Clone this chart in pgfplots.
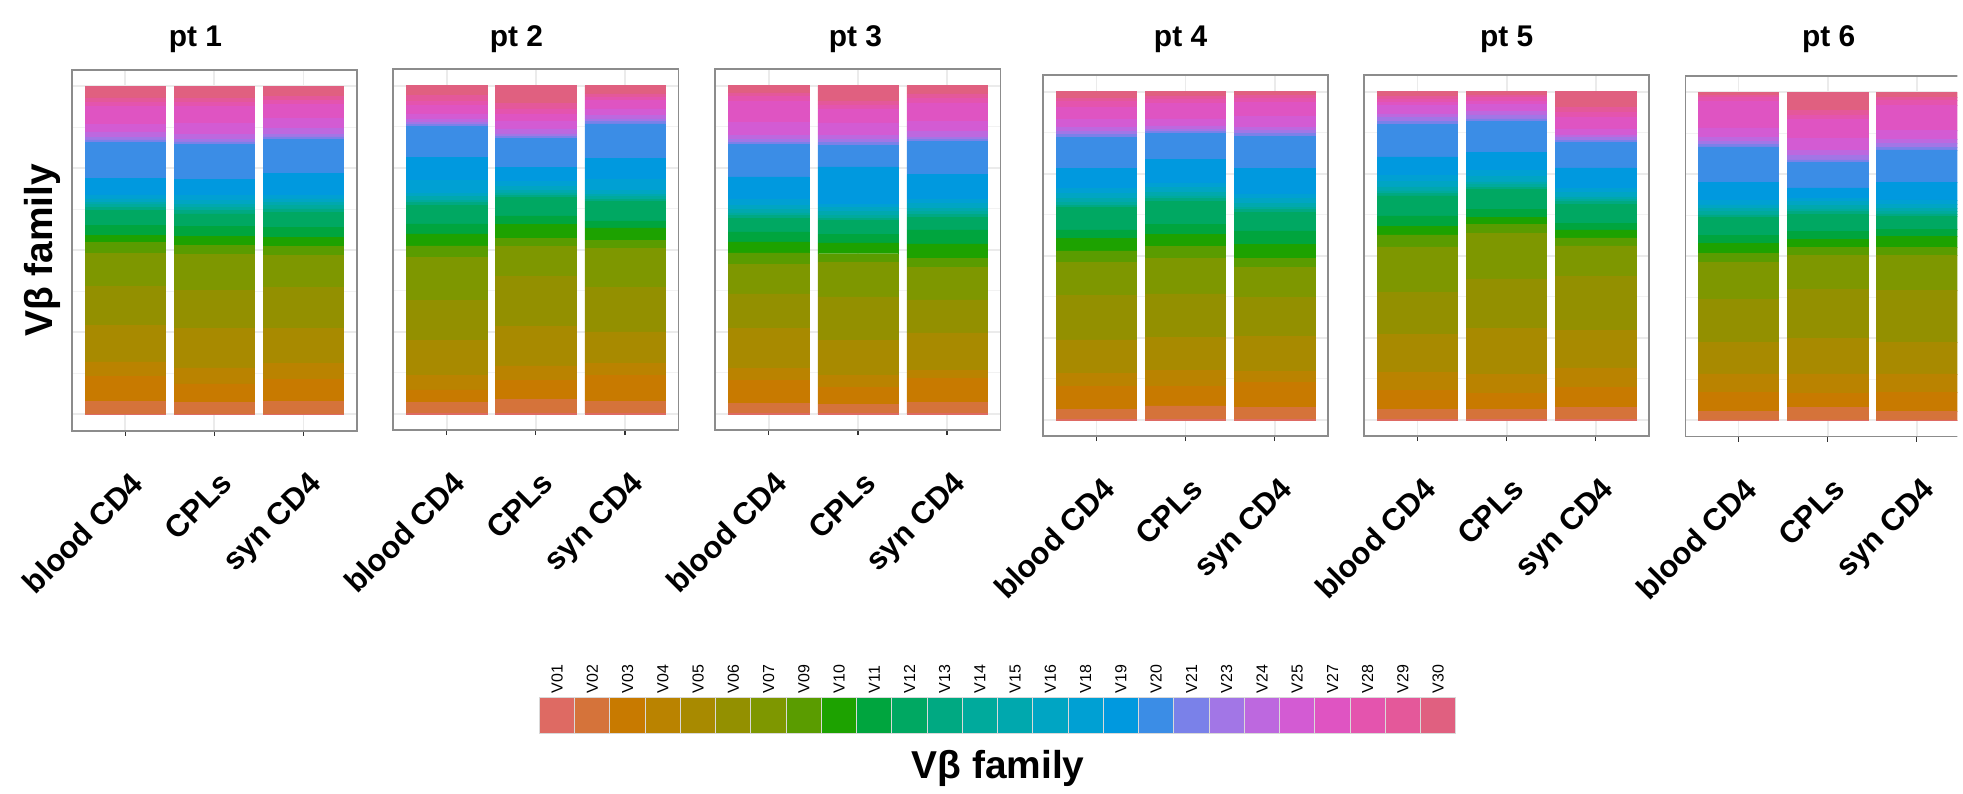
\documentclass[border=0pt]{standalone}
\usepackage{pgfplots}
\pgfplotsset{compat=1.18}
\usepackage{pgfplotstable}
\usepackage{fontspec}
\setmainfont{Liberation Sans}

\definecolor{c1}{HTML}{DE6A63}
\definecolor{c2}{HTML}{D5733A}
\definecolor{c3}{HTML}{C87A00}
\definecolor{c4}{HTML}{BA8300}
\definecolor{c5}{HTML}{A88A00}
\definecolor{c6}{HTML}{939000}
\definecolor{c7}{HTML}{7E9700}
\definecolor{c8}{HTML}{5A9C00}
\definecolor{c9}{HTML}{1DA200}
\definecolor{c10}{HTML}{00A53E}
\definecolor{c11}{HTML}{00A862}
\definecolor{c12}{HTML}{00A982}
\definecolor{c13}{HTML}{00AA9C}
\definecolor{c14}{HTML}{00A8AE}
\definecolor{c15}{HTML}{00A5C3}
\definecolor{c16}{HTML}{00A0D3}
\definecolor{c17}{HTML}{0099DF}
\definecolor{c18}{HTML}{3B8DE6}
\definecolor{c19}{HTML}{7A81E9}
\definecolor{c20}{HTML}{A276E6}
\definecolor{c21}{HTML}{BD68DF}
\definecolor{c22}{HTML}{D35BD3}
\definecolor{c23}{HTML}{DF54C2}
\definecolor{c24}{HTML}{E454AE}
\definecolor{c25}{HTML}{E4589A}
\definecolor{c26}{HTML}{E06080}

\pgfplotstableread{
x V01 V02 V03 V04 V05 V06 V07 V09 V10 V11 V12 V13 V14 V15 V16 V18 V19 V20 V21 V23 V24 V25 V27 V28 V29 V30
1 1 37 77 43 110 117 100 33 21 31 45 10 8 7 10 12 51 107 8 7 17 23 55 12 13 35
2 1 34 57 48 120 113 109 27 28 30 38 10 10 9 12 14 50 105 7 8 15 33 52 12 11 37
3 1 37 67 48 107 122 97 27 27 30 47 10 10 10 10 10 68 102 7 8 17 30 43 13 12 30
}\ptA
\pgfplotstableread{
x V01 V02 V03 V04 V05 V06 V07 V09 V10 V11 V12 V13 V14 V15 V16 V18 V19 V20 V21 V23 V24 V25 V27 V28 V29 V30
1 1 34 37 43 107 120 131 34 36 30 57 8 7 10 10 40 68 94 7 6 10 15 25 12 18 30
2 1 43 58 43 120 149 91 25 42 25 55 7 8 7 13 15 42 87 6 8 15 24 21 15 17 53
3 1 36 78 37 95 135 118 24 37 21 58 8 7 7 13 32 63 105 7 8 10 20 25 10 10 25
}\ptB
\pgfplotstableread{
x V01 V02 V03 V04 V05 V06 V07 V09 V10 V11 V12 V13 V14 V15 V16 V18 V19 V20 V21 V23 V24 V25 V27 V28 V29 V30
1 1 31 70 35 121 104 88 36 33 30 41 8 8 10 14 16 69 98 7 8 12 40 63 15 10 22
2 1 28 51 35 107 131 105 25 33 25 42 7 8 12 12 11 112 66 7 10 12 38 42 12 12 46
3 1 34 72 25 112 100 99 27 43 42 38 9 8 10 14 13 75 100 5 8 18 29 56 14 13 25
}\ptC
\pgfplotstableread{
x V01 V02 V03 V04 V05 V06 V07 V09 V10 V11 V12 V13 V14 V15 V16 V18 V19 V20 V21 V23 V24 V25 V27 V28 V29 V30
1 1 31 70 38 101 134 99 36 37 26 67 8 8 12 15 15 61 94 8 9 13 23 37 17 10 20
2 1 41 60 47 99 132 108 36 36 30 68 9 9 11 15 13 70 79 6 7 10 21 47 13 9 13
3 1 36 77 32 106 117 92 27 42 40 55 9 8 10 15 15 76 97 10 8 9 33 43 12 8 12
}\ptD
\pgfplotstableread{
x V01 V02 V03 V04 V05 V06 V07 V09 V10 V11 V12 V13 V14 V15 V16 V18 V19 V20 V21 V23 V24 V25 V27 V28 V29 V30
1 1 31 57 55 113 128 137 36 26 31 61 7 8 12 17 18 55 98 10 12 10 25 10 10 7 15
2 1 31 48 57 140 148 138 27 20 25 60 7 8 8 17 17 55 93 8 12 10 22 10 10 8 10
3 1 36 60 60 114 161 93 24 24 19 58 8 7 8 13 12 62 78 6 8 8 18 35 15 15 47
}\ptE
\pgfplotstableread{
x V01 V02 V03 V04 V05 V06 V07 V09 V10 V11 V12 V13 V14 V15 V16 V18 V19 V20 V21 V23 V24 V25 V27 V28 V29 V30
1 1 27 57 55 95 129 112 27 30 24 56 7 10 10 10 13 56 106 7 10 12 28 80 12 6 10
2 1 37 44 58 108 147 102 24 24 25 52 8 8 10 12 10 31 78 7 14 15 35 58 12 14 56
3 1 27 57 55 95 157 105 24 34 20 40 8 7 10 12 13 54 97 8 12 12 26 76 15 10 15
}\ptF

\pgfplotsset{
  panel/.style={
    scale only axis, width=143pt, height=181pt,
    anchor=north west,
    xmin=0.4, xmax=3.6, ymin=-49.5, ymax=1039.5,
    ybar stacked, bar width=0.9,
    xtick={1,2,3}, xticklabels={blood CD4,CPLs,syn CD4},
    ytick={0,247.5,495,742.5,990},
    minor ytick={123.75,371.25,618.75,866.25},
    yticklabels={},
    grid=both,
    major grid style={draw=black!8, line width=0.9pt},
    minor grid style={draw=black!5, line width=0.5pt},
    axis line style={draw=black!45, line width=0.9pt},
    tick align=outside, xtick pos=left,
    major tick length=2.5pt,
    xtick style={draw=black!80, line width=0.6pt},
    ytick style={draw=none},
    xticklabel style={font=\bfseries\fontsize{15.5}{17}\selectfont, inner sep=0pt, xshift=2pt, yshift=-17pt, rotate=45, anchor=north east},
  },
  seg/.style={fill=#1, draw=#1, line width=0.25pt},
}

\begin{document}
\begin{tikzpicture}
\path (0pt,0pt) rectangle (981.5pt,-397.5pt);

\begin{axis}[panel, at={(36pt,-35pt)}]
\pgfplotsinvokeforeach{1,...,26}{\addplot[seg=c#1] table[x index=0, y index=#1]{\ptA};}
\end{axis}
\begin{axis}[panel, at={(197.2pt,-34.75pt)}]
\pgfplotsinvokeforeach{1,...,26}{\addplot[seg=c#1] table[x index=0, y index=#1]{\ptB};}
\end{axis}
\begin{axis}[panel, at={(358.7pt,-34.75pt)}]
\pgfplotsinvokeforeach{1,...,26}{\addplot[seg=c#1] table[x index=0, y index=#1]{\ptC};}
\end{axis}
\begin{axis}[panel, at={(523pt,-37.75pt)}]
\pgfplotsinvokeforeach{1,...,26}{\addplot[seg=c#1] table[x index=0, y index=#1]{\ptD};}
\end{axis}
\begin{axis}[panel, at={(684pt,-37.75pt)}]
\pgfplotsinvokeforeach{1,...,26}{\addplot[seg=c#1] table[x index=0, y index=#1]{\ptE};}
\end{axis}
\begin{axis}[panel, at={(845pt,-38pt)}, width=136.5pt, xmax=3.455, axis line style={draw=none}]
\pgfplotsinvokeforeach{1,...,26}{\addplot[seg=c#1] table[x index=0, y index=#1]{\ptF};}
\draw[black!45, line width=0.9pt] (rel axis cs:1.05,1) -- (rel axis cs:0,1) -- (rel axis cs:0,0) -- (rel axis cs:1.05,0);
\end{axis}

\node[font=\bfseries\fontsize{15}{17}\selectfont, anchor=base] at (98pt,-23.5pt) {pt 1};
\node[font=\bfseries\fontsize{15}{17}\selectfont, anchor=base] at (259pt,-23.5pt) {pt 2};
\node[font=\bfseries\fontsize{15}{17}\selectfont, anchor=base] at (429pt,-23.5pt) {pt 3};
\node[font=\bfseries\fontsize{15}{17}\selectfont, anchor=base] at (592pt,-23.5pt) {pt 4};
\node[font=\bfseries\fontsize{15}{17}\selectfont, anchor=base] at (755.5pt,-23.5pt) {pt 5};
\node[font=\bfseries\fontsize{15}{17}\selectfont, anchor=base] at (917pt,-23.5pt) {pt 6};

\node[font=\bfseries\fontsize{19.5}{21}\selectfont, rotate=90] at (21.5pt,-125.5pt) {Vβ family};

\begin{axis}[scale only axis, width=459.5pt, height=18.25pt,
  at={(270.5pt,-368pt)}, anchor=south west,
  xmin=0.5, xmax=26.5, ymin=0, ymax=1,
  axis line style={draw=none}, tick style={draw=none}, ytick=\empty,
  xtick={1,...,26},
  xticklabels={V01,V02,V03,V04,V05,V06,V07,V09,V10,V11,V12,V13,V14,V15,V16,V18,V19,V20,V21,V23,V24,V25,V27,V28,V29,V30},
  xticklabel pos=right,
  xticklabel style={font=\fontsize{8}{9}\selectfont, inner sep=0pt, yshift=2pt, rotate=90, anchor=west},
  clip=false]
\pgfplotsinvokeforeach{1,...,26}{\addplot[ybar, bar width=1, bar shift=0pt, fill=c#1, draw=black!15, line width=0.5pt] coordinates {(#1,1)};}
\end{axis}
\node[font=\bfseries\fontsize{19.5}{21}\selectfont, anchor=base] at (500.5pt,-390.5pt) {Vβ family};
\end{tikzpicture}
\end{document}
